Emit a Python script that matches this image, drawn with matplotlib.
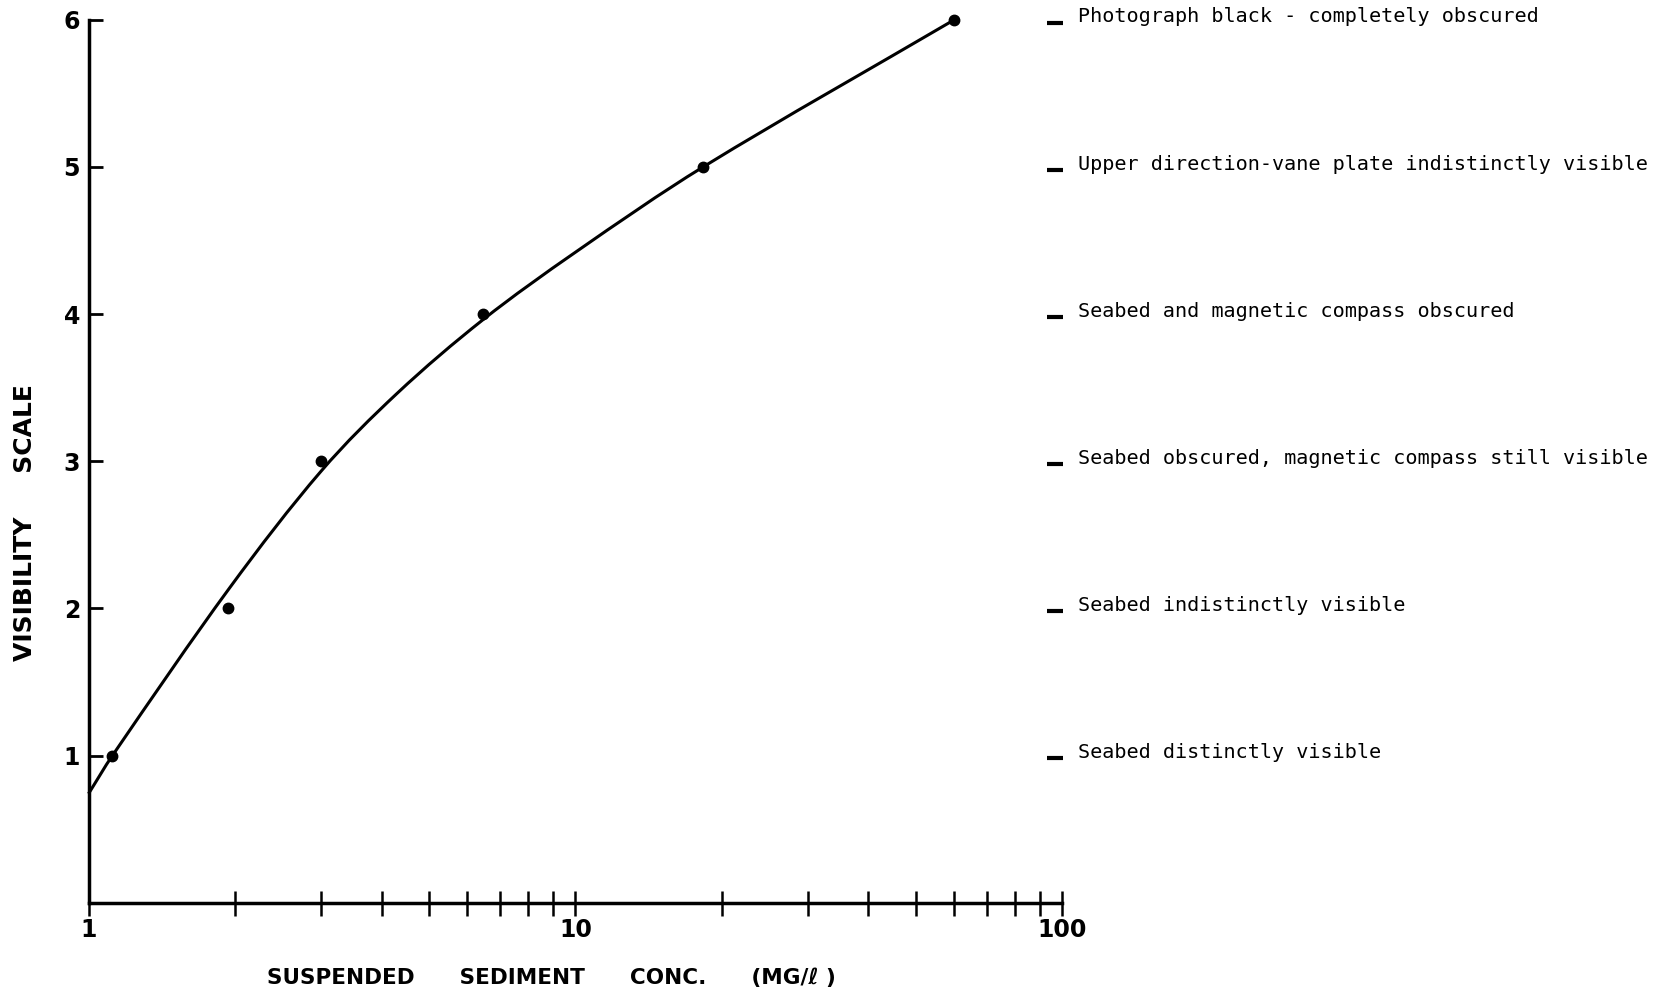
import matplotlib
matplotlib.use("Agg")
from matplotlib import pyplot as plt
from matplotlib.ticker import FixedLocator, NullFormatter
from matplotlib.path import Path
from matplotlib.patches import PathPatch
import numpy as np

# Measured points (suspended sediment conc., visibility scale)
conc = [1.12, 1.93, 3.0, 6.45, 18.3, 60.0]
visibility = [1, 2, 3, 4, 5, 6]

# Hand-drawn fitted curve
curve_x = [1.0, 1.12, 1.95, 3.0, 4.3, 6.45, 10.0, 18.3, 60.0]
curve_y = [0.74, 1.0, 2.14, 2.93, 3.46, 3.96, 4.42, 5.0, 6.0]

# Descriptions of each visibility level
levels = [6, 5, 4, 3, 2, 1]
descriptions = [
    "Photograph black - completely obscured",
    "Upper direction-vane plate indistinctly visible",
    "Seabed and magnetic compass obscured",
    "Seabed obscured, magnetic compass still visible",
    "Seabed indistinctly visible",
    "Seabed distinctly visible",
]

fig = plt.figure(figsize=(16.7, 9.93), dpi=100)
ax = fig.add_axes([0.053, 0.091, 0.583, 0.889])

# smooth curve through the read-off points (cubic hermite as bezier, in log-x space)
lx = np.log10(curve_x)
cy = np.array(curve_y)
n = len(lx)
slopes = np.empty(n)
slopes[0] = (cy[1] - cy[0]) / (lx[1] - lx[0])
slopes[-1] = (cy[-1] - cy[-2]) / (lx[-1] - lx[-2])
for i in range(1, n - 1):
    slopes[i] = (cy[i + 1] - cy[i - 1]) / (lx[i + 1] - lx[i - 1])
verts = [(lx[0], cy[0])]
codes = [Path.MOVETO]
for i in range(n - 1):
    h = lx[i + 1] - lx[i]
    verts += [(lx[i] + h / 3, cy[i] + slopes[i] * h / 3),
              (lx[i + 1] - h / 3, cy[i + 1] - slopes[i + 1] * h / 3),
              (lx[i + 1], cy[i + 1])]
    codes += [Path.CURVE4] * 3
verts = np.array(verts)
verts[:, 0] = 10 ** verts[:, 0]
ax.add_patch(PathPatch(Path(verts, codes), fill=False, lw=2.2, ec="black",
                       clip_on=False))

ax.plot(conc, visibility, "o", color="black", markersize=7.5, clip_on=False)

ax.set_xscale("log")
ax.set_xlim(1, 100)
ax.set_ylim(0, 6)

# spines
for side in ["top", "right"]:
    ax.spines[side].set_visible(False)
for side in ["left", "bottom"]:
    ax.spines[side].set_linewidth(2.5)

# y ticks
ax.set_yticks([1, 2, 3, 4, 5, 6])
ax.set_yticklabels(["1", "2", "3", "4", "5", "6"], fontweight="bold", fontsize=17)
ax.tick_params(axis="y", direction="in", length=10, width=2, pad=6)

# x ticks
ax.xaxis.set_major_locator(FixedLocator([1, 10, 100]))
ax.set_xticklabels(["1", "10", "100"], fontweight="bold", fontsize=17)
minor = [m * d for d in (1, 10) for m in range(2, 10)]
ax.xaxis.set_minor_locator(FixedLocator(minor))
ax.xaxis.set_minor_formatter(NullFormatter())
ax.tick_params(axis="x", which="both", direction="inout", length=18, width=1.8, pad=2)

ax.set_ylabel("VISIBILITY     SCALE", fontweight="bold", fontsize=18)
ax.yaxis.set_label_coords(-0.053, 0.43)
ax.set_xlabel("SUSPENDED      SEDIMENT      CONC.      (MG/\u2113 )",
              fontweight="bold", fontsize=15.5)
ax.xaxis.set_label_coords(0.475, -0.074)

# right-hand level descriptions
ax.plot([96.5] * len(levels), [l - 0.02 for l in levels], marker="_", linestyle="none",
        color="black", markersize=12, markeredgewidth=3, clip_on=False)
for lev, txt in zip(levels, descriptions):
    ax.text(108, lev + 0.02, txt, fontsize=14.5, family="DejaVu Sans Mono",
            va="center", ha="left", clip_on=False)

plt.savefig("out.png", dpi=100)
